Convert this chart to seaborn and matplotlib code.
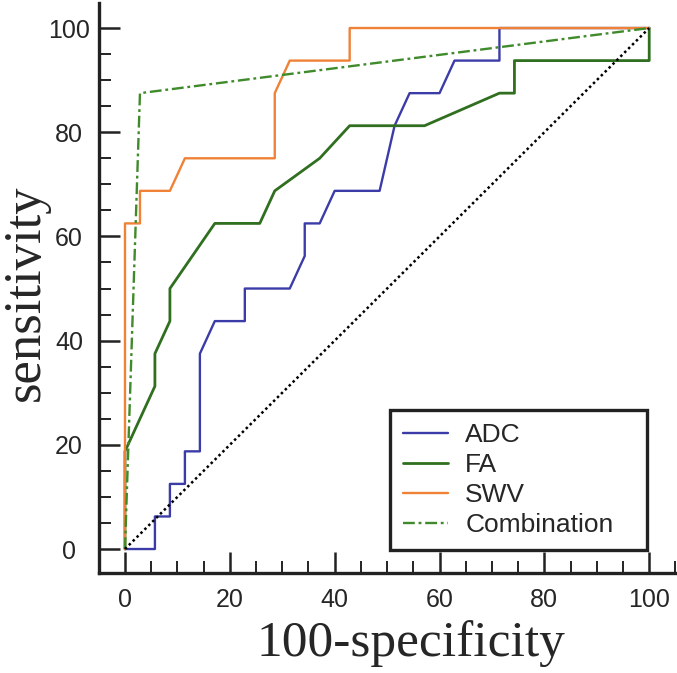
import numpy as np
import pandas as pd
import matplotlib
matplotlib.use("Agg")
import matplotlib.pyplot as plt
from matplotlib.ticker import MultipleLocator
import seaborn as sns

# =============================================
# ROC CURVES: ADC, FA, SWV and combination
# =============================================

adc_x = [0, 5.71, 5.71, 8.57, 8.57, 11.43, 11.43, 14.29, 14.29, 17.14, 22.86, 22.86,
         31.43, 34.29, 34.29, 37.14, 40, 48.57, 51.43, 54.29, 60, 62.86, 71.43, 71.43, 100]
adc_y = [0, 0, 6.25, 6.25, 12.5, 12.5, 18.75, 18.75, 37.5, 43.75, 43.75, 50,
         50, 56.25, 62.5, 62.5, 68.75, 68.75, 81.25, 87.5, 87.5, 93.75, 93.75, 100, 100]

fa_x = [0, 0, 5.71, 5.71, 8.57, 8.57, 17.14, 25.71, 28.57, 37.14, 42.86, 57.14,
        71.43, 74.29, 74.29, 100, 100]
fa_y = [0, 18.75, 31.25, 37.5, 43.75, 50, 62.5, 62.5, 68.75, 75, 81.25, 81.25,
        87.5, 87.5, 93.75, 93.75, 100]

swv_x = [0, 0, 2.86, 2.86, 8.57, 11.43, 28.57, 28.57, 31.43, 42.86, 42.86, 100]
swv_y = [0, 62.5, 62.5, 68.75, 68.75, 75, 75, 87.5, 93.75, 93.75, 100, 100]

comb_x = [0, 2.86, 100]
comb_y = [0, 87.5, 100]

ref_x = [0, 100]
ref_y = [0, 100]

curves = [
    ("ADC", adc_x, adc_y, "#3c3ca8", "-", 1.7),
    ("FA", fa_x, fa_y, "#2f6f1f", "-", 2.0),
    ("SWV", swv_x, swv_y, "#ef8236", "-", 1.7),
    ("Combination", comb_x, comb_y, "#3f8a2a", (0, (5, 1.6, 1.2, 1.6)), 1.7),
]

sns.set_style("ticks")
plt.rcParams["font.family"] = ["Liberation Sans", "DejaVu Sans"]

fig = plt.figure(figsize=(6.77, 6.73), dpi=100)
ax = fig.add_axes([0.1462, 0.1486, 0.8538, 0.8469])

for name, xs, ys, col, ls, lw in curves:
    df = pd.DataFrame({"x": xs, "y": ys})
    sns.lineplot(data=df, x="x", y="y", sort=False, estimator=None, ax=ax,
                 color=col, linestyle=ls, linewidth=lw, label=name)

ref = pd.DataFrame({"x": ref_x, "y": ref_y})
sns.lineplot(data=ref, x="x", y="y", sort=False, estimator=None, ax=ax,
             color="black", linestyle=(0, (1, 1.2)), linewidth=1.8, legend=False)

ax.set_xlim(-4.96, 105.3)
ax.set_ylim(-4.6, 104.8)
ax.xaxis.set_major_locator(MultipleLocator(20))
ax.xaxis.set_minor_locator(MultipleLocator(5))
ax.yaxis.set_major_locator(MultipleLocator(20))
ax.yaxis.set_minor_locator(MultipleLocator(5))

sns.despine(ax=ax)
for s in ["left", "bottom"]:
    ax.spines[s].set_linewidth(2.4)
    ax.spines[s].set_color("#222222")

ax.tick_params(which="major", direction="in", length=15, width=1.8,
               labelsize=18, color="#222222")
ax.tick_params(which="minor", direction="in", length=8.5, width=1.4, color="#222222")
ax.tick_params(axis="x", which="major", pad=11)
ax.tick_params(axis="y", which="major", pad=21.5)
plt.setp(ax.get_yticklabels(), ha="center")

ax.set_xlabel("100-specificity", family="Liberation Serif", fontsize=37)
ax.set_ylabel("sensitivity", family="Liberation Serif", fontsize=38)
ax.xaxis.set_label_coords(0.5405, -0.082)
ax.yaxis.set_label_coords(-0.085, 0.491)

leg = ax.legend(loc="lower left", bbox_to_anchor=(0.5035, 0.0404, 0.4446, 0.2),
                mode="expand", borderaxespad=0,
                fontsize=19, frameon=True, fancybox=False, handlelength=1.7,
                handletextpad=0.65, labelspacing=0.22, borderpad=0.5)
leg.get_frame().set_edgecolor("#222222")
leg.get_frame().set_linewidth(2.4)
leg.get_frame().set_alpha(1)

fig.savefig("out.png", dpi=100)
